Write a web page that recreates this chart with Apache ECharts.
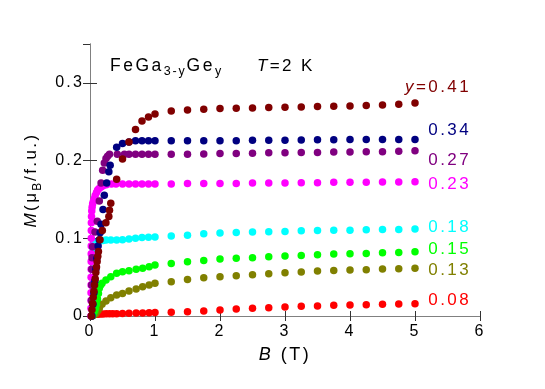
<!DOCTYPE html>
<html>
<head>
<meta charset="UTF-8">
<title>FeGa3-yGey M(B)</title>
<script src="https://cdn.jsdelivr.net/npm/echarts@6/dist/echarts.min.js"></script>
</head>
<body style="margin:0;background:#fff">
<div id="chart" style="width:545px;height:389px"></div>
<script>
// high-field points, shared field grid (T)
var fieldHigh = [1.25, 1.5, 1.75, 2, 2.25, 2.5, 2.75, 3, 3.25, 3.5, 3.75, 4, 4.25, 4.5, 4.75, 5];

var mHigh041 = [0.2639, 0.2652, 0.266, 0.267, 0.2672, 0.2677, 0.2682, 0.2686, 0.269, 0.2695, 0.27, 0.2703, 0.2708, 0.2716, 0.2725, 0.2742];
var mHigh034 = [0.2254, 0.2254, 0.2254, 0.2254, 0.2255, 0.226, 0.226, 0.2263, 0.2265, 0.2267, 0.2268, 0.227, 0.227, 0.227, 0.227, 0.2272];
var mHigh027 = [0.208, 0.208, 0.2085, 0.209, 0.209, 0.2095, 0.21, 0.21, 0.2105, 0.2105, 0.211, 0.211, 0.2115, 0.2115, 0.212, 0.2125];
var mHigh023 = [0.170, 0.1705, 0.1705, 0.1705, 0.1705, 0.171, 0.1712, 0.1712, 0.1715, 0.1715, 0.172, 0.172, 0.1722, 0.1724, 0.1725, 0.1726];
var mHigh018 = [0.1028, 0.104, 0.1058, 0.1067, 0.1075, 0.108, 0.1084, 0.1088, 0.1097, 0.1101, 0.1105, 0.1105, 0.111, 0.1114, 0.1114, 0.1118];
var mHigh015 = [0.0677, 0.0698, 0.0715, 0.0733, 0.0743, 0.075, 0.0763, 0.0771, 0.078, 0.0788, 0.0797, 0.0801, 0.0805, 0.0814, 0.0818, 0.0827];
var mHigh013 = [0.0441, 0.0471, 0.0493, 0.0506, 0.0518, 0.0531, 0.0544, 0.0557, 0.0566, 0.0578, 0.0587, 0.0591, 0.0595, 0.0604, 0.0608, 0.0613];
var mHigh008 = [0.0047, 0.0056, 0.0064, 0.0077, 0.009, 0.0099, 0.0107, 0.0116, 0.0124, 0.0129, 0.0137, 0.0141, 0.0145, 0.015, 0.0154, 0.0158];

// low-field points [B, M], up to 1 T
var low041 = [[0.02, 0], [0.03, 0.008], [0.04, 0.016], [0.05, 0.024], [0.06, 0.032], [0.07, 0.040], [0.08, 0.048], [0.09, 0.056], [0.10, 0.063], [0.11, 0.070], [0.12, 0.077], [0.13, 0.083], [0.154, 0.098], [0.19, 0.11], [0.245, 0.12], [0.29, 0.128], [0.30, 0.136], [0.32, 0.145], [0.41, 0.176], [0.50, 0.202], [0.60, 0.224], [0.70, 0.240], [0.80, 0.251], [0.90, 0.256], [1.0, 0.260]];
var low034 = [[0.03, 0], [0.045, 0.015], [0.06, 0.03], [0.075, 0.045], [0.09, 0.06], [0.105, 0.074], [0.125, 0.09], [0.143, 0.098], [0.155, 0.107], [0.17, 0.118], [0.20, 0.137], [0.22, 0.1555], [0.257, 0.171], [0.29, 0.1855], [0.31, 0.194], [0.41, 0.217], [0.50, 0.222], [0.60, 0.224], [0.70, 0.2254], [0.80, 0.2254], [0.90, 0.2254], [1.0, 0.2254]];
var low027 = [[0.02, 0], [0.022, 0.02], [0.025, 0.04], [0.028, 0.06], [0.032, 0.075], [0.04, 0.089], [0.077, 0.108], [0.112, 0.122], [0.143, 0.148], [0.17, 0.171], [0.195, 0.1877], [0.22, 0.197], [0.246, 0.2027], [0.27, 0.2057], [0.30, 0.208], [0.42, 0.208], [0.53, 0.208], [0.60, 0.208], [0.70, 0.208], [0.80, 0.208], [0.90, 0.208], [1.0, 0.208]];
var low023 = [[0.015, 0], [0.015, 0.01], [0.016, 0.02], [0.016, 0.03], [0.017, 0.04], [0.017, 0.05], [0.018, 0.06], [0.018, 0.07], [0.019, 0.08], [0.019, 0.09], [0.02, 0.1], [0.02, 0.11], [0.021, 0.12], [0.023, 0.128], [0.027, 0.135], [0.032, 0.14], [0.04, 0.144], [0.05, 0.147], [0.066, 0.151], [0.08, 0.155], [0.1, 0.159], [0.118, 0.162], [0.14, 0.164], [0.17, 0.166], [0.2, 0.1675], [0.25, 0.169], [0.33, 0.1697], [0.4, 0.17], [0.5, 0.17], [0.6, 0.17], [0.7, 0.17], [0.8, 0.17], [0.9, 0.17], [1.0, 0.1698]];
var low018 = [[0.025, 0], [0.028, 0.02], [0.032, 0.04], [0.036, 0.06], [0.042, 0.075], [0.05, 0.086], [0.066, 0.0925], [0.1, 0.095], [0.143, 0.0964], [0.2, 0.097], [0.246, 0.0977], [0.32, 0.0977], [0.41, 0.0977], [0.5, 0.098], [0.6, 0.099], [0.7, 0.1], [0.8, 0.101], [0.9, 0.1012], [1.0, 0.1015]];
var low015 = [[0.03, 0], [0.05, 0.003], [0.07, 0.006], [0.085, 0.01], [0.1, 0.015], [0.115, 0.022], [0.13, 0.029], [0.143, 0.0356], [0.165, 0.04], [0.185, 0.042], [0.246, 0.0463], [0.32, 0.0505], [0.41, 0.0549], [0.5, 0.057], [0.6, 0.0583], [0.71, 0.06], [0.81, 0.0613], [0.91, 0.0634], [1.0, 0.0655]];
var low013 = [[0.03, 0], [0.05, 0.001], [0.07, 0.002], [0.085, 0.003], [0.1, 0.0048], [0.12, 0.007], [0.143, 0.0099], [0.185, 0.015], [0.246, 0.0193], [0.32, 0.0235], [0.41, 0.027], [0.5, 0.0291], [0.6, 0.0321], [0.71, 0.0347], [0.81, 0.0377], [0.91, 0.0398], [1.0, 0.042]];
var low008 = [[0.03, 0.001], [0.05, 0.0015], [0.07, 0.002], [0.09, 0.0022], [0.11, 0.0024], [0.13, 0.0025], [0.16, 0.0026], [0.2, 0.0027], [0.25, 0.0028], [0.3, 0.0029], [0.35, 0.003], [0.41, 0.003], [0.5, 0.0032], [0.6, 0.0034], [0.71, 0.0037], [0.81, 0.004], [0.91, 0.0042], [1.0, 0.0045]];

var yNames = ['0.08', '0.13', '0.15', '0.18', '0.23', '0.27', '0.34', '0.41'];
var colors = ['#ff0000', '#808000', '#00ff00', '#00ffff', '#ff00ff', '#800080', '#000080', '#800000'];
var lowSets = [low008, low013, low015, low018, low023, low027, low034, low041];
var highSets = [mHigh008, mHigh013, mHigh015, mHigh018, mHigh023, mHigh027, mHigh034, mHigh041];
// vertical centre of each label beside the curves (px)
var labelY = [300, 270, 249, 227, 184, 160, 130, 87];

// the original figure uses loosely tracked Arial: add a little letter spacing
(function () {
    var proto = CanvasRenderingContext2D.prototype;
    var fill = proto.fillText, measure = proto.measureText;
    function track(ctx) {
        var m = /(\d+(?:\.\d+)?)px/.exec(ctx.font);
        ctx.letterSpacing = m ? (parseFloat(m[1]) * 0.14).toFixed(1) + 'px' : '0px';
    }
    proto.fillText = function () { track(this); return fill.apply(this, arguments); };
    proto.measureText = function () { track(this); return measure.apply(this, arguments); };
})();

var font = "'Liberation Sans', Arial, sans-serif";
var chart = echarts.init(document.getElementById('chart'));

var series = yNames.map(function (name, i) {
    var pts = lowSets[i].concat(fieldHigh.map(function (b, j) {
        return [b, highSets[i][j]];
    }));
    return {
        name: name,
        type: 'scatter',
        data: pts,
        symbol: 'circle',
        symbolSize: 7.5,
        itemStyle: { color: colors[i], opacity: 1 },
        emphasis: { disabled: true },
        z: 2 + i
    };
});

var labels = yNames.map(function (name, i) {
    return {
        type: 'text',
        x: 471,
        y: labelY[i],
        style: {
            text: i === 7 ? '{i|y}=' + name : name,
            fill: colors[i],
            fontSize: 17,
            fontFamily: font,
            align: 'right',
            verticalAlign: 'middle',
            rich: { i: { fontStyle: 'italic', fontSize: 17, fontFamily: font, fill: colors[i] } }
        }
    };
});

var axisGray = '#808080';
var option = {
    backgroundColor: '#fff',
    animation: false,
    grid: { left: 90, right: 65, top: 44, bottom: 73 },
    xAxis: [{
        type: 'value',
        min: 0, max: 6, interval: 1,
        name: '{i|B} (T)',
        nameLocation: 'middle',
        nameGap: 28,
        nameTextStyle: {
            color: '#000', fontSize: 18, fontFamily: font,
            rich: { i: { fontStyle: 'italic', fontSize: 18, fontFamily: font, color: '#000' } }
        },
        axisLine: { lineStyle: { color: axisGray, width: 1 } },
        axisTick: { inside: true, length: 5, lineStyle: { color: '#333' } },
        axisLabel: { color: '#000', fontSize: 16, fontFamily: font, margin: 6 },
        splitLine: { show: false }
    }, {
        type: 'value',
        position: 'top',
        min: 0, max: 6, interval: 1,
        axisLine: { show: true, lineStyle: { color: axisGray, width: 1 } },
        axisTick: { inside: true, length: 5, lineStyle: { color: '#333' } },
        axisLabel: { show: false },
        splitLine: { show: false }
    }],
    yAxis: [{
        type: 'value',
        min: 0, max: 0.35, interval: 0.1,
        name: '{i|M}(μ{s|B}/f.u.)',
        nameLocation: 'middle',
        nameRotate: 90,
        nameGap: 44,
        nameTextStyle: {
            color: '#000', fontSize: 17, fontFamily: font, lineHeight: 26,
            rich: {
                i: { fontStyle: 'italic', fontSize: 17, fontFamily: font, color: '#000', lineHeight: 26 },
                s: { fontSize: 12, fontFamily: font, color: '#000', lineHeight: 12, verticalAlign: 'bottom' }
            }
        },
        axisLine: { show: true, lineStyle: { color: axisGray, width: 1 } },
        axisTick: { inside: true, length: 7, lineStyle: { color: '#333' } },
        axisLabel: {
            color: '#000', fontSize: 16, fontFamily: font, margin: 6,
            showMaxLabel: false,
            formatter: function (v) { return v === 0 ? '0' : v.toFixed(1); }
        },
        splitLine: { show: false }
    }, {
        type: 'value',
        position: 'right',
        min: 0, max: 0.35, interval: 0.1,
        axisLine: { show: true, lineStyle: { color: axisGray, width: 1 } },
        axisTick: { inside: true, length: 7, lineStyle: { color: '#333' } },
        axisLabel: { show: false },
        splitLine: { show: false }
    }],
    graphic: [{
        type: 'text',
        x: 110,
        y: 66,
        style: {
            text: 'FeGa{s|3-y}Ge{s|y}',
            fill: '#000',
            fontSize: 17.5,
            fontFamily: font,
            lineHeight: 26,
            verticalAlign: 'middle',
            rich: { s: { fontSize: 12.5, fontFamily: font, fill: '#000', lineHeight: 12, verticalAlign: 'bottom' } }
        }
    }, {
        type: 'text',
        x: 257,
        y: 66,
        style: {
            text: '{i|T}=2 K',
            fill: '#000',
            fontSize: 17,
            fontFamily: font,
            verticalAlign: 'middle',
            rich: { i: { fontStyle: 'italic', fontSize: 17, fontFamily: font, fill: '#000' } }
        }
    }].concat(labels),
    series: series
};

chart.setOption(option);
</script>
</body>
</html>
